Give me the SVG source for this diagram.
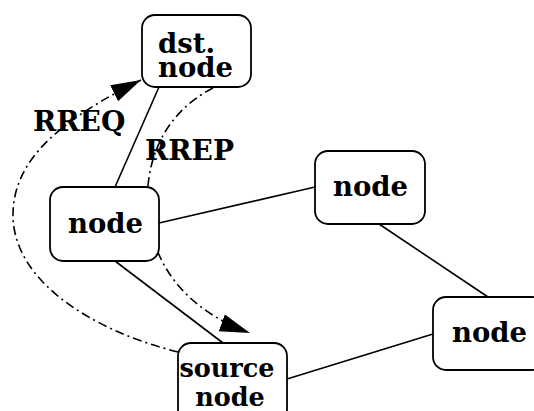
<svg xmlns="http://www.w3.org/2000/svg" width="534" height="411" viewBox="0 0 534 411">
<style>
.box{fill:#fff;stroke:#000;stroke-width:1.8}
.t{font-family:"DejaVu Serif","Liberation Serif",serif;font-weight:bold;font-size:27.5px;fill:#000}
.s{font-size:25.5px}
.lb{font-size:28px}
.ln{stroke:#000;stroke-width:1.6;fill:none}
.dd{stroke:#000;stroke-width:1.6;fill:none;stroke-dasharray:9,4,2,4}
</style>
<defs>
<marker id="ah" markerUnits="userSpaceOnUse" markerWidth="32" markerHeight="20" refX="30" refY="9" orient="auto" viewBox="0 0 32 20">
<path d="M0,0 L30,9 L0,18 z" fill="#000"/>
</marker>
</defs>
<rect width="534" height="411" fill="#fff"/>
<g id="connectors">
<line class="ln" x1="159" y1="87" x2="115" y2="187"/>
<line class="ln" x1="159" y1="223" x2="315" y2="187"/>
<line class="ln" x1="115" y1="261" x2="223" y2="343"/>
<line class="ln" x1="379" y1="224" x2="488" y2="297"/>
<line class="ln" x1="287" y1="379" x2="433" y2="334"/>
<path class="dd" d="M178,352 C90,330 13,280 13,215 C13,160 60,120 141,80" marker-end="url(#ah)"/>
<path class="dd" d="M213,88 C160,115 140,170 150,225 C160,280 200,315 250,333" marker-end="url(#ah)"/>
</g>
<g id="dst">
<rect class="box" x="142" y="15" width="109" height="72" rx="13"/>
<text class="t" x="158" y="53">dst.</text>
<text class="t" x="158" y="77">node</text>
</g>
<g id="nodeL">
<rect class="box" x="50" y="187" width="109" height="74" rx="13"/>
<text class="t" x="68" y="233">node</text>
</g>
<g id="nodeTR">
<rect class="box" x="315" y="151" width="110" height="73" rx="13"/>
<text class="t" x="333" y="196">node</text>
</g>
<g id="nodeBR">
<rect class="box" x="433" y="297" width="112" height="73" rx="13"/>
<text class="t" x="452" y="342">node</text>
</g>
<g id="source">
<rect class="box" x="178" y="343" width="109" height="80" rx="13"/>
<text class="t s" x="227" y="377" text-anchor="middle">source</text>
<text class="t s" x="230" y="406" text-anchor="middle">node</text>
</g>
<g id="labels">
<text class="t lb" x="33" y="131">RREQ</text>
<text class="t lb" x="145" y="160">RREP</text>
</g>
</svg>
